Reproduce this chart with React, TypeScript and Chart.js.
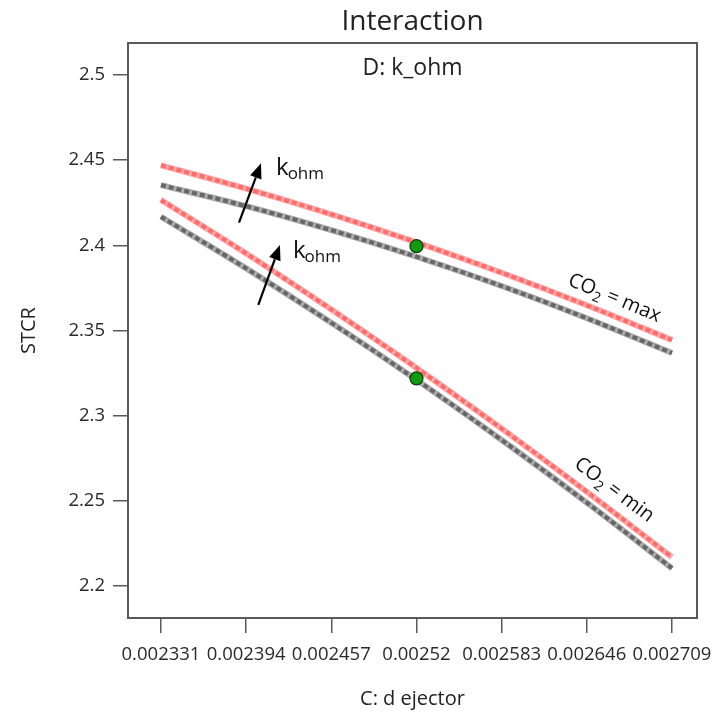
import { useEffect, useRef } from "react";
import { Chart, registerables } from "chart.js";

Chart.register(...registerables);

// C: d ejector levels (x axis ticks)
const dEjector = [0.002331, 0.002394, 0.002457, 0.00252, 0.002583, 0.002646, 0.002709];
const xTickLabels = ["0.002331", "0.002394", "0.002457", "0.00252", "0.002583", "0.002646", "0.002709"];

// STCR axis ticks
const yTicks = [2.2, 2.25, 2.3, 2.35, 2.4, 2.45, 2.5];
const yTickLabels = ["2.2", "2.25", "2.3", "2.35", "2.4", "2.45", "2.5"];

// CO2 = max, k_ohm high / low
const stcrCo2MaxHigh = [2.447, 2.4333, 2.4182, 2.4017, 2.3839, 2.3648, 2.3444];
const stcrCo2MaxLow = [2.4354, 2.423, 2.4089, 2.3933, 2.3761, 2.3572, 2.3368];
// CO2 = min, k_ohm high / low
const stcrCo2MinHigh = [2.4266, 2.3952, 2.3623, 2.328, 2.2924, 2.2553, 2.2169];
const stcrCo2MinLow = [2.4168, 2.3865, 2.3545, 2.321, 2.2857, 2.2489, 2.2104];

// design points
const designX = [0.00252, 0.00252];
const designY = [2.3995, 2.3219];

const FONT = "'Open Sans', 'Noto Sans', sans-serif";

const RED_BASE = "#ffa8a8";
const RED_DASH = "#ff6a6a";
const GRAY_BASE = "#acacac";
const GRAY_DASH = "#666666";

function series(values: number[]) {
  return dEjector.map((x, i) => ({ x, y: values[i] }));
}

function lineSet(values: number[], color: string, dashed: boolean, order: number) {
  return {
    type: "line" as const,
    data: series(values),
    borderColor: color,
    borderWidth: dashed ? 4 : 6,
    borderDash: dashed ? [5, 3] : [],
    pointRadius: 0,
    tension: 0.4,
    cubicInterpolationMode: "monotone" as const,
    fill: false,
    order,
  };
}

function drawArrow(ctx: CanvasRenderingContext2D, x0: number, y0: number, x1: number, y1: number) {
  const ang = Math.atan2(y1 - y0, x1 - x0);
  const headLen = 15;
  const headW = 6;
  const bx = x1 - headLen * Math.cos(ang);
  const by = y1 - headLen * Math.sin(ang);
  ctx.save();
  ctx.strokeStyle = "#000";
  ctx.fillStyle = "#000";
  ctx.lineWidth = 2.2;
  ctx.beginPath();
  ctx.moveTo(x0, y0);
  ctx.lineTo(bx, by);
  ctx.stroke();
  ctx.beginPath();
  ctx.moveTo(x1, y1);
  ctx.lineTo(bx + headW * Math.sin(ang), by - headW * Math.cos(ang));
  ctx.lineTo(bx - headW * Math.sin(ang), by + headW * Math.cos(ang));
  ctx.closePath();
  ctx.fill();
  ctx.restore();
}

function drawKohm(ctx: CanvasRenderingContext2D, x: number, y: number) {
  ctx.save();
  ctx.fillStyle = "#111";
  ctx.textAlign = "left";
  ctx.textBaseline = "alphabetic";
  ctx.font = `24px ${FONT}`;
  ctx.fillText("k", x, y);
  const w = ctx.measureText("k").width;
  ctx.font = `17px ${FONT}`;
  ctx.fillText("ohm", x + w - 1, y + 4);
  ctx.restore();
}

function drawCo2Label(ctx: CanvasRenderingContext2D, cx: number, cy: number, angleDeg: number, tail: string) {
  ctx.save();
  ctx.translate(cx, cy);
  ctx.rotate((angleDeg * Math.PI) / 180);
  ctx.fillStyle = "#111";
  ctx.textBaseline = "alphabetic";
  ctx.textAlign = "left";
  ctx.font = `20px ${FONT}`;
  const wCO = ctx.measureText("CO").width;
  const wTail = ctx.measureText(tail).width;
  ctx.font = `14px ${FONT}`;
  const wSub = ctx.measureText("2").width;
  const total = wCO + wSub + wTail;
  let x = -total / 2;
  const base = 7;
  ctx.font = `20px ${FONT}`;
  ctx.fillText("CO", x, base);
  x += wCO;
  ctx.font = `14px ${FONT}`;
  ctx.fillText("2", x, base + 5);
  x += wSub;
  ctx.font = `20px ${FONT}`;
  ctx.fillText(tail, x, base);
  ctx.restore();
}

const overlayPlugin = {
  id: "interactionOverlay",
  afterDraw(chart: any) {
    const { ctx, chartArea } = chart;
    const xs = chart.scales.x;
    const ys = chart.scales.y;
    const px = (v: number) => xs.getPixelForValue(v);
    const py = (v: number) => ys.getPixelForValue(v);

    // frame
    ctx.save();
    ctx.strokeStyle = "#5a5a5a";
    ctx.lineWidth = 2;
    ctx.strokeRect(chartArea.left, chartArea.top, chartArea.right - chartArea.left, chartArea.bottom - chartArea.top);
    ctx.restore();

    // titles
    const cx = (chartArea.left + chartArea.right) / 2;
    ctx.save();
    ctx.fillStyle = "#222";
    ctx.textAlign = "center";
    ctx.textBaseline = "alphabetic";
    ctx.font = `28px ${FONT}`;
    ctx.fillText("Interaction", cx, chartArea.top - 13);
    ctx.font = `23px ${FONT}`;
    ctx.fillText("D: k_ohm", cx, chartArea.top + 32);
    ctx.restore();

    // k_ohm direction arrows
    drawArrow(ctx, px(0.0023887), py(2.4133), px(0.002405), py(2.4482));
    drawKohm(ctx, px(0.0024161), py(2.4413));
    drawArrow(ctx, px(0.002403), py(2.365), px(0.002419), py(2.4002));
    drawKohm(ctx, px(0.0024286), py(2.3926));

    // CO2 level labels
    drawCo2Label(ctx, px(0.0026668), py(2.3697), 22.5, " = max");
    drawCo2Label(ctx, px(0.0026668), py(2.257), 37, " = min");
  },
};

export default function App() {
  const canvasRef = useRef<HTMLCanvasElement | null>(null);

  useEffect(() => {
    const canvas = canvasRef.current;
    if (!canvas) return;

    const chart = new Chart(canvas, {
      type: "line",
      data: {
        datasets: [
          {
            type: "scatter",
            data: designX.map((x, i) => ({ x, y: designY[i] })),
            pointRadius: 6.5,
            pointBackgroundColor: "#109a10",
            pointBorderColor: "#0b3d0b",
            pointBorderWidth: 1.2,
            showLine: false,
            order: 0,
          } as any,
          lineSet(stcrCo2MaxHigh, RED_DASH, true, 1),
          lineSet(stcrCo2MaxHigh, RED_BASE, false, 2),
          lineSet(stcrCo2MaxLow, GRAY_DASH, true, 1),
          lineSet(stcrCo2MaxLow, GRAY_BASE, false, 2),
          lineSet(stcrCo2MinHigh, RED_DASH, true, 1),
          lineSet(stcrCo2MinHigh, RED_BASE, false, 2),
          lineSet(stcrCo2MinLow, GRAY_DASH, true, 1),
          lineSet(stcrCo2MinLow, GRAY_BASE, false, 2),
        ],
      },
      options: {
        responsive: false,
        animation: false,
        events: [],
        layout: { padding: { top: 43, right: 15, left: 0, bottom: 0 } },
        plugins: {
          legend: { display: false },
          title: { display: false },
          tooltip: { enabled: false },
        },
        scales: {
          x: {
            type: "linear",
            min: 0.0023066,
            max: 0.0027275,
            afterBuildTicks: (scale: any) => {
              scale.ticks = dEjector.map((v) => ({ value: v }));
            },
            afterFit: (scale: any) => {
              scale.height = 100;
              scale.paddingLeft = 0;
              scale.paddingRight = 0;
            },
            border: { display: false },
            grid: { drawOnChartArea: false, drawTicks: true, tickLength: 15, color: "#5a5a5a", lineWidth: 1.5 },
            ticks: {
              autoSkip: false,
              maxRotation: 0,
              padding: 11,
              color: "#2a2a2a",
              font: { family: FONT, size: 18.5 },
              callback: (_v: any, i: number) => xTickLabels[i],
            },
            title: {
              display: true,
              text: "C: d ejector",
              color: "#222",
              font: { family: FONT, size: 20 },
              padding: { top: 0, bottom: 7 },
            },
          },
          y: {
            type: "linear",
            min: 2.1812,
            max: 2.5188,
            afterBuildTicks: (scale: any) => {
              scale.ticks = yTicks.map((v) => ({ value: v }));
            },
            afterFit: (scale: any) => {
              scale.width = 128;
              scale.paddingTop = 0;
              scale.paddingBottom = 0;
            },
            border: { display: false },
            grid: { drawOnChartArea: false, drawTicks: true, tickLength: 15, color: "#5a5a5a", lineWidth: 1.5 },
            ticks: {
              autoSkip: false,
              padding: 8,
              color: "#2a2a2a",
              font: { family: FONT, size: 18.5 },
              callback: (_v: any, i: number) => yTickLabels[i],
            },
            title: {
              display: true,
              text: "STCR",
              color: "#222",
              font: { family: FONT, size: 20 },
              padding: { top: 17, bottom: 0 },
            },
          },
        },
      },
      plugins: [overlayPlugin],
    } as any);

    return () => chart.destroy();
  }, []);

  return (
    <div style={{ position: "fixed", left: 0, top: 0, width: 712, height: 718, background: "#fff" }}>
      <canvas ref={canvasRef} width={712} height={718} style={{ display: "block" }} />
    </div>
  );
}
